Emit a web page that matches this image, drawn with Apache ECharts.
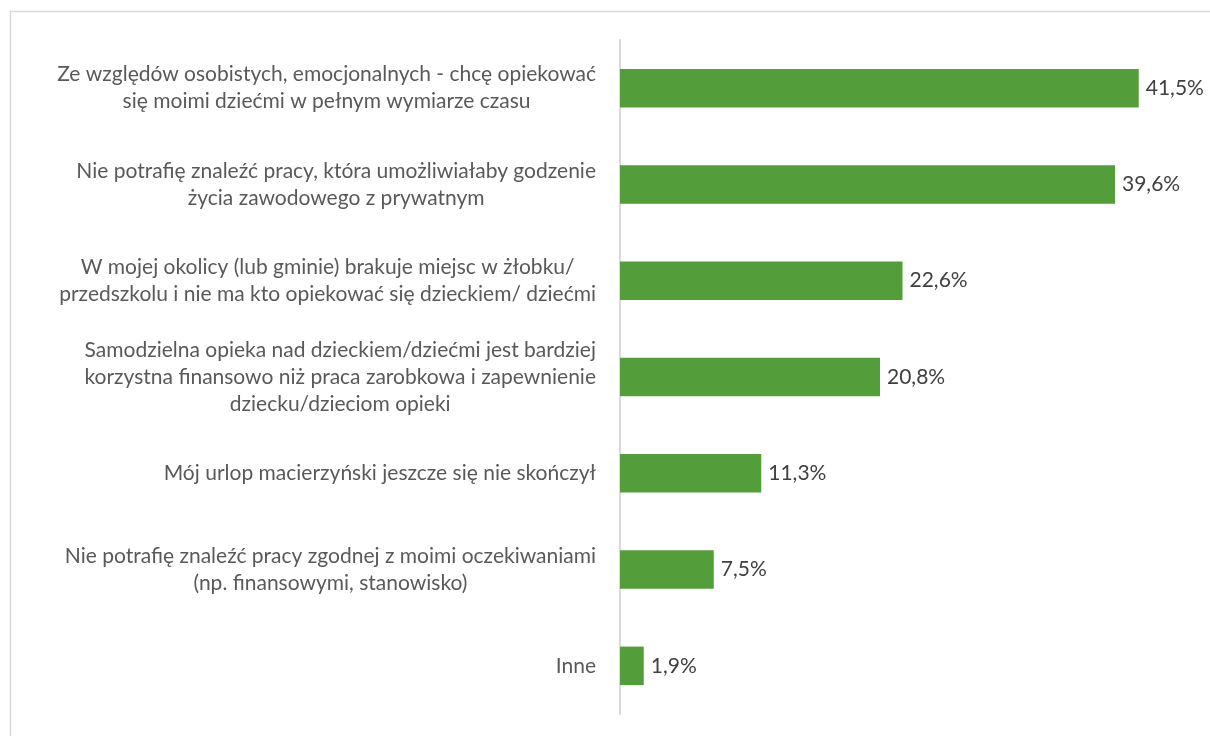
<!DOCTYPE html>
<html>
<head>
<meta charset="utf-8">
<script src="https://cdn.jsdelivr.net/npm/echarts@6/dist/echarts.min.js"></script>
<style>
  html, body { margin: 0; padding: 0; background: #fff; }
  #chart { width: 1210px; height: 736px; }
</style>
</head>
<body>
<div id="chart"></div>
<script>
// categories, top to bottom
const categories = [
  'Ze względów osobistych, emocjonalnych - chcę opiekować\nsię moimi dziećmi w pełnym wymiarze czasu',
  'Nie potrafię znaleźć pracy, która umożliwiałaby godzenie\nżycia zawodowego z prywatnym',
  'W mojej okolicy (lub gminie) brakuje miejsc w żłobku/\nprzedszkolu i nie ma kto opiekować się dzieckiem/ dziećmi',
  'Samodzielna opieka nad dzieckiem/dziećmi jest bardziej\nkorzystna finansowo niż praca zarobkowa i zapewnienie\ndziecku/dzieciom opieki',
  'Mój urlop macierzyński jeszcze się nie skończył',
  'Nie potrafię znaleźć pracy zgodnej z moimi oczekiwaniami\n(np. finansowymi, stanowisko)',
  'Inne'
];
const values = [41.5, 39.6, 22.6, 20.8, 11.3, 7.5, 1.9];

const FONT = 'Lato';
const FS = 21;
let chart = echarts.init(document.getElementById('chart'));

chart.setOption({
  animation: false,
  backgroundColor: '#fff',
  graphic: [{
    type: 'rect',
    left: 8,
    top: 9,
    shape: { width: 1230, height: 760 },
    style: { fill: 'none', stroke: '#d9d9d9', lineWidth: 1.5 },
    silent: true
  }],
  grid: { left: 620, top: 40, right: 10, bottom: 22, containLabel: false },
  xAxis: {
    type: 'value',
    min: 0,
    max: 46.4,
    show: false
  },
  yAxis: {
    type: 'category',
    inverse: true,
    data: categories,
    axisLine: { show: true, lineStyle: { color: '#d9d9d9', width: 2 } },
    axisTick: { show: false },
    axisLabel: {
      margin: 24,
      color: '#595959',
      fontFamily: FONT,
      fontSize: FS,
      lineHeight: 27,
      formatter: v => v.split('\n').map(l => '{c|' + l + '}').join('\n'),
      rich: {
        c: { align: 'center', color: '#595959', fontFamily: FONT, fontSize: FS, lineHeight: 27 }
      }
    }
  },
  series: [{
    type: 'bar',
    data: values,
    barWidth: '40%',
    itemStyle: { color: '#539d3a' },
    label: {
      show: true,
      position: 'right',
      distance: 7,
      color: '#404040',
      fontFamily: FONT,
      fontSize: FS,
      formatter: p => p.value.toFixed(1).replace('.', ',') + '%'
    }
  }]
});
</script>
</body>
</html>
